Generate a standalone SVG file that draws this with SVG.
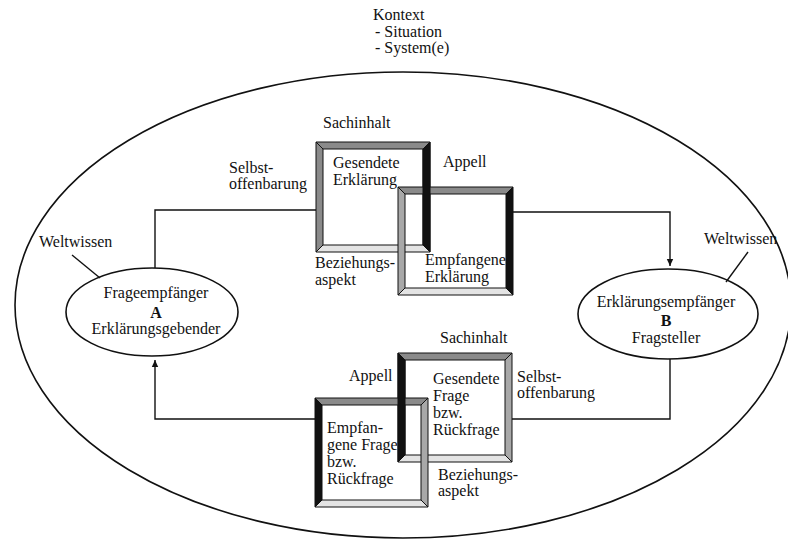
<svg xmlns="http://www.w3.org/2000/svg" width="788" height="556" viewBox="0 0 788 556">
<style>
text{font-family:"Liberation Serif","Times New Roman",serif;font-size:16px;fill:#111}
.mid{text-anchor:middle}
.b{font-weight:bold}
.line{fill:none;stroke:#111;stroke-width:1.4}
.ell{fill:none;stroke:#111;stroke-width:1.6}
.bev{stroke:#111;stroke-width:1;stroke-linejoin:miter}
.g1{fill:#8a8a8a}.g2{fill:#a8a8a8}.bk{fill:#111}.lt{fill:#e4e4e4}
</style>
<defs>
<marker id="arr" markerWidth="8" markerHeight="8" refX="7" refY="4" orient="auto" markerUnits="userSpaceOnUse">
<path d="M0,0.8 L7,4 L0,7.2 Z" fill="#111"/>
</marker>
</defs>
<rect width="788" height="556" fill="#fff"/>
<g id="context">
<ellipse class="ell" cx="403" cy="305" rx="388" ry="233"/>
<text x="373" y="20">Kontext</text>
<text x="375" y="37">- Situation</text>
<text x="375" y="53">- System(e)</text>
</g>
<g id="connectors">
<path class="line" d="M155,268 V210 H316"/>
<path class="line" d="M513,212 H670 V266" marker-end="url(#arr)"/>
<path class="line" d="M670,359 V419 H512"/>
<path class="line" d="M315,419 H155 V360" marker-end="url(#arr)"/>
<path class="line" d="M72,255 L100,278"/>
<path class="line" d="M748,252 L726,282"/>
</g>
<g id="nodeA">
<ellipse class="ell" cx="152" cy="312" rx="86" ry="44"/>
<text class="mid" x="156" y="298">Frageempfänger</text>
<text class="mid b" x="156" y="318">A</text>
<text class="mid" x="156" y="334">Erklärungsgebender</text>
<text x="39" y="247">Weltwissen</text>
</g>
<g id="nodeB">
<ellipse class="ell" cx="668" cy="314" rx="90" ry="45"/>
<text class="mid" x="666" y="307">Erklärungsempfänger</text>
<text class="mid b" x="666" y="326">B</text>
<text class="mid" x="666" y="343">Fragsteller</text>
<text x="704" y="244">Weltwissen</text>
</g>
<g id="erklaerung">
<text x="323" y="128">Sachinhalt</text>
<text x="229" y="173">Selbst-</text>
<text x="229" y="189">offenbarung</text>
<text x="443" y="167">Appell</text>
<text x="315" y="268">Beziehungs-</text>
<text x="315" y="285">aspekt</text>
<text x="333" y="168">Gesendete</text>
<text x="333" y="185">Erklärung</text>
<text x="425" y="265">Empfangene</text>
<text x="425" y="282">Erklärung</text>
<g id="frame-gesendete-erklaerung" class="bev">
<polygon class="g1" points="316,142 430,142 423,149 323,149"/>
<polygon class="g1" points="316,142 323,149 323,245 316,252"/>
<polygon class="lt" points="316,252 430,252 423,245 323,245"/>
<polygon class="bk" points="430,142 430,252 423,245 423,149"/>
</g>
<g id="frame-empfangene-erklaerung" class="bev">
<polygon class="g1" points="398,187 513,187 506,194 405,194"/>
<polygon class="g2" points="398,187 405,194 405,288 398,295"/>
<polygon class="lt" points="398,295 513,295 506,288 405,288"/>
<polygon class="bk" points="513,187 513,295 506,288 506,194"/>
</g>
<polygon class="bev bk" points="430,142 430,252 423,245 423,149"/>
</g>
<g id="frage">
<text x="440" y="343">Sachinhalt</text>
<text x="349" y="381">Appell</text>
<text x="517" y="382">Selbst-</text>
<text x="517" y="398">offenbarung</text>
<text x="438" y="480">Beziehungs-</text>
<text x="438" y="496">aspekt</text>
<text x="433" y="384">Gesendete</text>
<text x="433" y="401">Frage</text>
<text x="433" y="418">bzw.</text>
<text x="433" y="435">Rückfrage</text>
<text x="327" y="433">Empfan-</text>
<text x="327" y="450">gene Frage</text>
<text x="327" y="467">bzw.</text>
<text x="327" y="484">Rückfrage</text>
<g id="frame-gesendete-frage" class="bev">
<polygon class="g1" points="398,353 512,353 505,360 405,360"/>
<polygon class="g2" points="512,353 512,462 505,455 505,360"/>
<polygon class="lt" points="398,462 512,462 505,455 405,455"/>
<polygon class="bk" points="398,353 405,360 405,455 398,462"/>
</g>
<g id="frame-empfangene-frage" class="bev">
<polygon class="g1" points="315,398 428,398 421,405 322,405"/>
<polygon class="g2" points="428,398 428,507 421,500 421,405"/>
<polygon class="lt" points="315,507 428,507 421,500 322,500"/>
<polygon class="bk" points="315,398 322,405 322,500 315,507"/>
</g>
<polygon class="bev bk" points="398,353 405,360 405,455 398,462"/>
</g>
</svg>
